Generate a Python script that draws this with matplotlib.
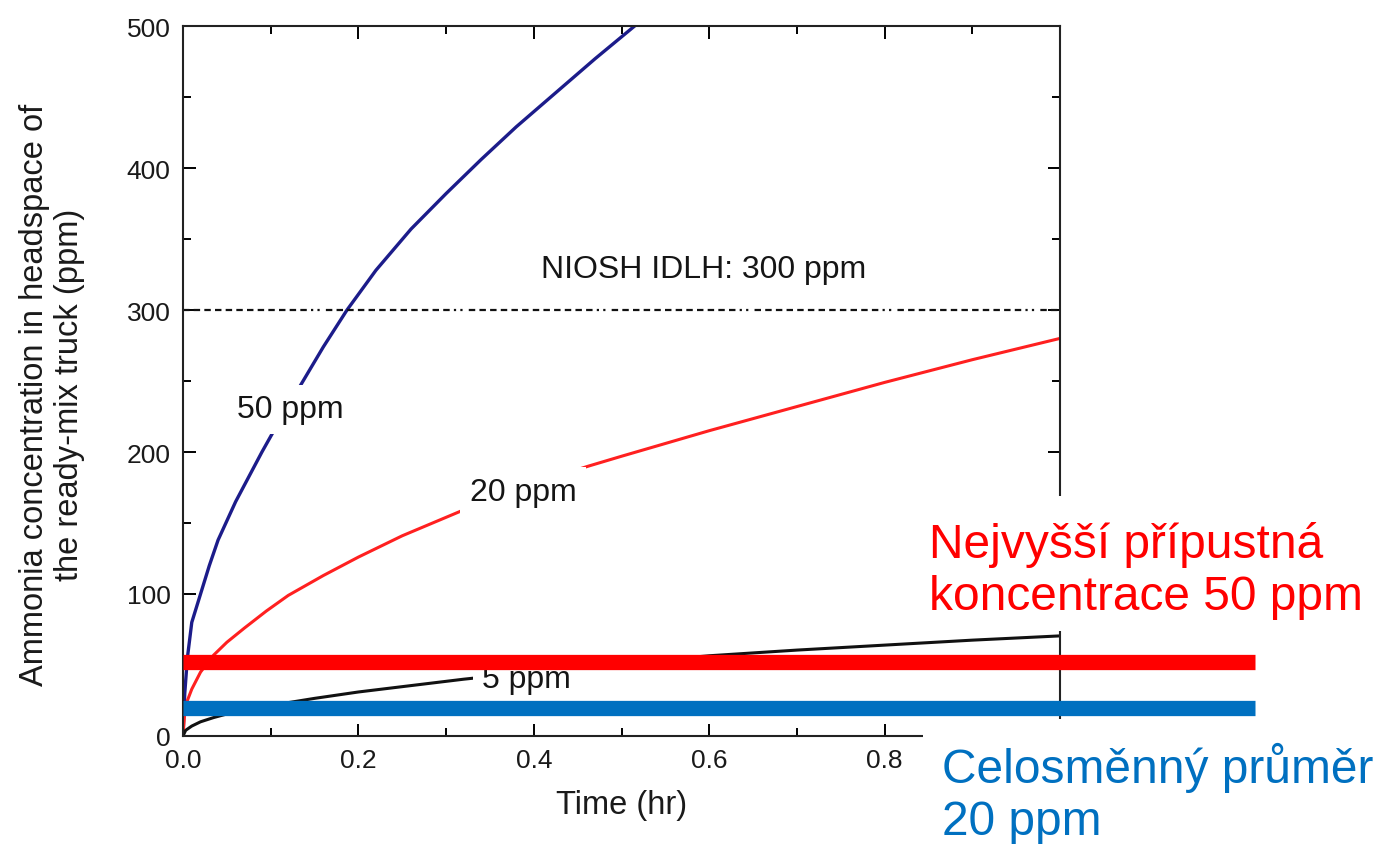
import matplotlib.pyplot as plt
from matplotlib.patches import Rectangle
from matplotlib.ticker import MultipleLocator, FuncFormatter

plt.rcParams['font.family'] = ['Liberation Sans', 'DejaVu Sans']

# curves (time in hr, concentration in ppm)
t_50 = [0, 0.002, 0.005, 0.01, 0.02, 0.03, 0.04, 0.06, 0.09, 0.11, 0.135, 0.16,
        0.187, 0.22, 0.26, 0.3, 0.34, 0.38, 0.425, 0.47, 0.515]
c_50 = [0, 30, 55, 80, 100, 120, 138, 165, 200, 222, 248, 274,
        300, 328, 357, 382, 406, 429, 453, 477, 500]

t_20 = [0, 0.002, 0.005, 0.01, 0.02, 0.035, 0.05, 0.07, 0.095, 0.12, 0.16, 0.2,
        0.25, 0.3, 0.35, 0.4, 0.462, 0.5, 0.6, 0.7, 0.8, 0.9, 1.0]
c_20 = [0, 17, 25, 33, 45, 57, 66, 76, 88, 99, 113, 126,
        141, 154, 167, 178, 190, 197, 215, 232, 249, 265, 280]

t_5 = [0, 0.003, 0.01, 0.02, 0.035, 0.05, 0.075, 0.1, 0.15, 0.2, 0.26, 0.32,
       0.45, 0.6, 0.7, 0.8, 0.9, 1.0]
c_5 = [0, 4, 7, 10, 13, 15.5, 18.5, 21.5, 26.5, 31, 35.5, 40,
       48.5, 56.5, 60.5, 64, 67.5, 70.5]

idlh = 300
limit_max = 52   # Nejvyšší přípustná koncentrace (drawn band)
limit_avg = 20   # Celosměnný průměr

fig = plt.figure(figsize=(13.8, 8.45), dpi=100)
ax = fig.add_axes([183/1380, 1-737/845, 877/1380, 710/845])

ax.plot(t_50, c_50, color='#1c1c8a', lw=2.4, zorder=2)
ax.plot(t_20, c_20, color='#ff2020', lw=2.2, zorder=2)
ax.plot(t_5, c_5, color='#111111', lw=2.2, zorder=2)

dash = [2.9, 1.9] * 12 + [1.0, 1.9, 1.0, 2.8]
ax.plot([0, 1.0], [idlh, idlh], color='#111111', lw=1.6,
        linestyle=(0, dash), zorder=2)

lab = dict(fontsize=23, ha='center', va='center', color='#151515', zorder=3,
           bbox=dict(boxstyle='square,pad=0.3', fc='white', ec='none'))
ax.text(0.122, 230, '50 ppm', **lab)
ax.text(0.388, 172, '20 ppm', **lab)
ax.text(0.392, 40, '5 ppm', **lab)
ax.text(0.594, 329, 'NIOSH IDLH: 300 ppm', fontsize=23, ha='center', va='center',
        color='#151515', zorder=3)

ax.set_xlim(0, 1.0)
ax.set_ylim(0, 500)
ax.xaxis.set_major_locator(MultipleLocator(0.2))
ax.xaxis.set_minor_locator(MultipleLocator(0.1))
# the 1.0 label sits under the caption box in the picture
ax.xaxis.set_major_formatter(FuncFormatter(lambda v, p: '' if v > 0.95 else '%.1f' % v))
ax.yaxis.set_major_locator(MultipleLocator(100))
ax.yaxis.set_minor_locator(MultipleLocator(50))
ax.tick_params(which='both', direction='in', top=True, right=True,
               width=1.4, labelsize=19, labelcolor='#1a1a1a')
ax.tick_params(which='major', length=9, pad=9)
ax.tick_params(which='minor', length=5.5)
for s in ax.spines.values():
    s.set_linewidth(1.5)
    s.set_color('#222222')

ax.set_xlabel('Time (hr)', fontsize=23.5, color='#1a1a1a')
ax.xaxis.set_label_coords(0.5, -0.075)
ax.set_ylabel('Ammonia concentration in headspace of\nthe ready-mix truck (ppm)',
              fontsize=23.5, color='#1a1a1a', linespacing=1.15)
ax.yaxis.set_label_coords(-0.112, 0.482)

# limit bands laid over the chart
ax.plot([0, 1.222], [limit_max, limit_max], color='#ff0000', lw=11,
        solid_capstyle='butt', clip_on=False, zorder=5)
ax.plot([0, 1.222], [limit_avg, limit_avg], color='#0070c0', lw=11,
        solid_capstyle='butt', clip_on=False, zorder=5)

# white boxes behind the Czech captions
fig.add_artist(Rectangle((925/1380, 1-632/845), 455/1380, 135/845,
                         transform=fig.transFigure, fc='white', ec='none', zorder=3))
fig.add_artist(Rectangle((923/1380, 0), 457/1380, 125/845,
                         transform=fig.transFigure, fc='white', ec='none', zorder=3))

fig.text(929/1380, 1-610/845, 'Nejvyšší přípustná\nkoncentrace 50 ppm',
         fontsize=34.5, color='#ff0000', ha='left', va='baseline', zorder=4)
fig.text(942/1380, 1-835/845, 'Celosměnný průměr\n20 ppm',
         fontsize=34.5, color='#0070c0', ha='left', va='baseline', zorder=4)

fig.savefig('out.png', dpi=100)
